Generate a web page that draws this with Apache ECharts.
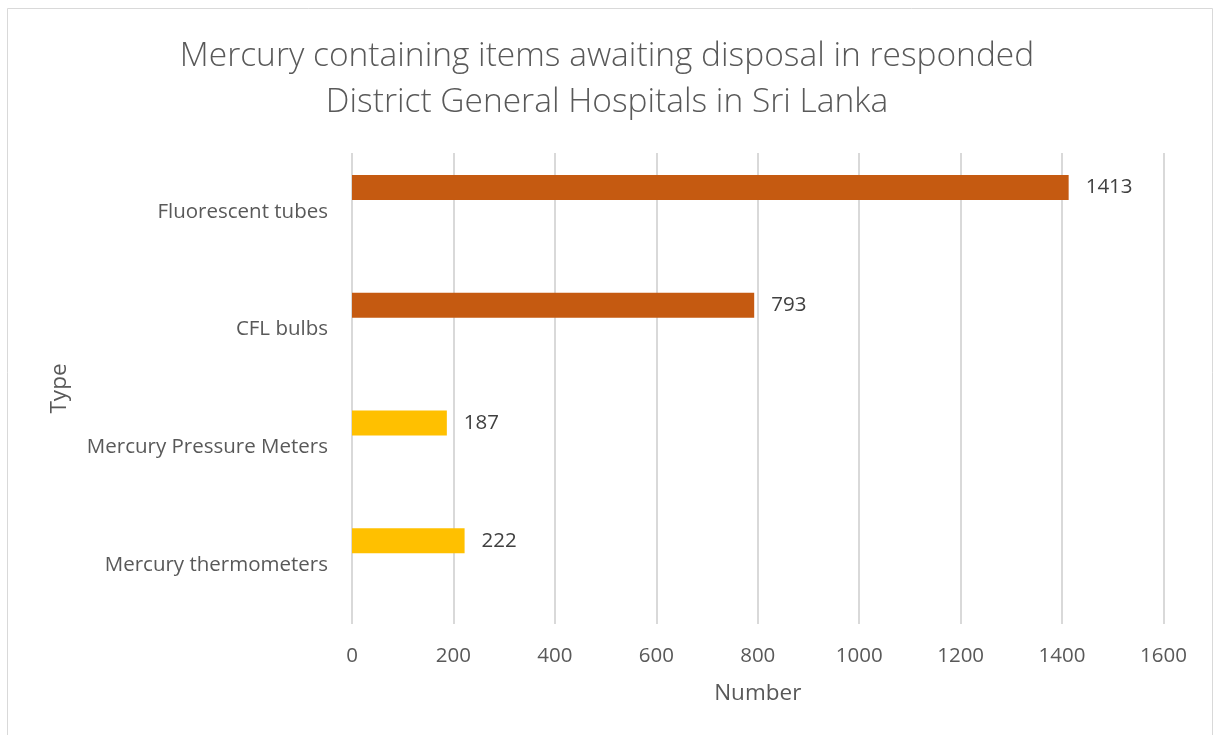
<!DOCTYPE html>
<html lang="en">
<head>
<meta charset="UTF-8">
<script src="https://cdn.jsdelivr.net/npm/echarts@6.0.0/dist/echarts.min.js"></script>
<title>Mercury items</title>
<style>
  html, body { margin: 0; padding: 0; background: #fff; }
  #chart { width: 1214px; height: 735px; }
</style>
</head>
<body>
<div id="chart"></div>
<script type="text/javascript">
    // data
    var categories = ['Fluorescent tubes', 'CFL bulbs', 'Mercury Pressure Meters', 'Mercury thermometers'];
    var counts = [1413, 793, 187, 222];
    var barColors = ['#C55A11', '#C55A11', '#FFC000', '#FFC000'];
    var xTicks = [0, 200, 400, 600, 800, 1000, 1200, 1400, 1600];

    var txt = '#595959';
    var font = '"Open Sans", "Noto Sans", sans-serif';

    var chart = echarts.init(document.getElementById('chart'));
    var option = {
        backgroundColor: '#fff',
        textStyle: { fontFamily: font },
        title: {
            text: 'Mercury containing items awaiting disposal in responded\nDistrict General Hospitals in Sri Lanka',
            left: 'center',
            top: 28,
            textStyle: { fontFamily: font, fontSize: 33.5, fontWeight: 300, color: txt, lineHeight: 46 }
        },
        graphic: [{
            type: 'rect',
            shape: { x: 7.5, y: 8.5, width: 1205, height: 740 },
            style: { fill: null, stroke: '#d9d9d9', lineWidth: 1 },
            silent: true
        }],
        grid: { left: 352, right: 1214 - 1163.5, top: 153, bottom: 735 - 624 },
        xAxis: {
            type: 'value',
            min: xTicks[0],
            max: xTicks[xTicks.length - 1],
            interval: 200,
            name: 'Number',
            nameLocation: 'middle',
            nameGap: 58,
            nameTextStyle: { fontSize: 22.5, color: txt, fontFamily: font },
            axisLine: { show: false },
            axisTick: { show: false },
            axisLabel: { fontSize: 20.5, color: txt, margin: 22, fontFamily: font, formatter: function (v) { return String(v); } },
            splitLine: { lineStyle: { color: '#d9d9d9', width: 2 } }
        },
        yAxis: {
            type: 'category',
            data: categories,
            inverse: true,
            name: 'Type',
            nameLocation: 'middle',
            nameGap: 281,
            nameRotate: 90,
            nameTextStyle: { fontSize: 22.5, color: txt, fontFamily: font },
            axisLine: { show: false },
            axisTick: { show: false },
            axisLabel: { fontSize: 20.5, color: txt, margin: 24, fontFamily: font },
            splitLine: { show: false }
        },
        series: [{
            type: 'bar',
            barWidth: 25,
            barGap: '95%',
            data: counts.map(function (v, i) {
                return { value: v, itemStyle: { color: barColors[i] } };
            }),
            label: {
                show: true,
                position: 'right',
                distance: 17,
                fontSize: 20.5,
                color: '#404040',
                fontFamily: font
            }
        }, {
            type: 'bar',
            barWidth: 25,
            data: counts.map(function () { return null; })
        }]
    };
    chart.setOption(option);
</script>
</body>
</html>
